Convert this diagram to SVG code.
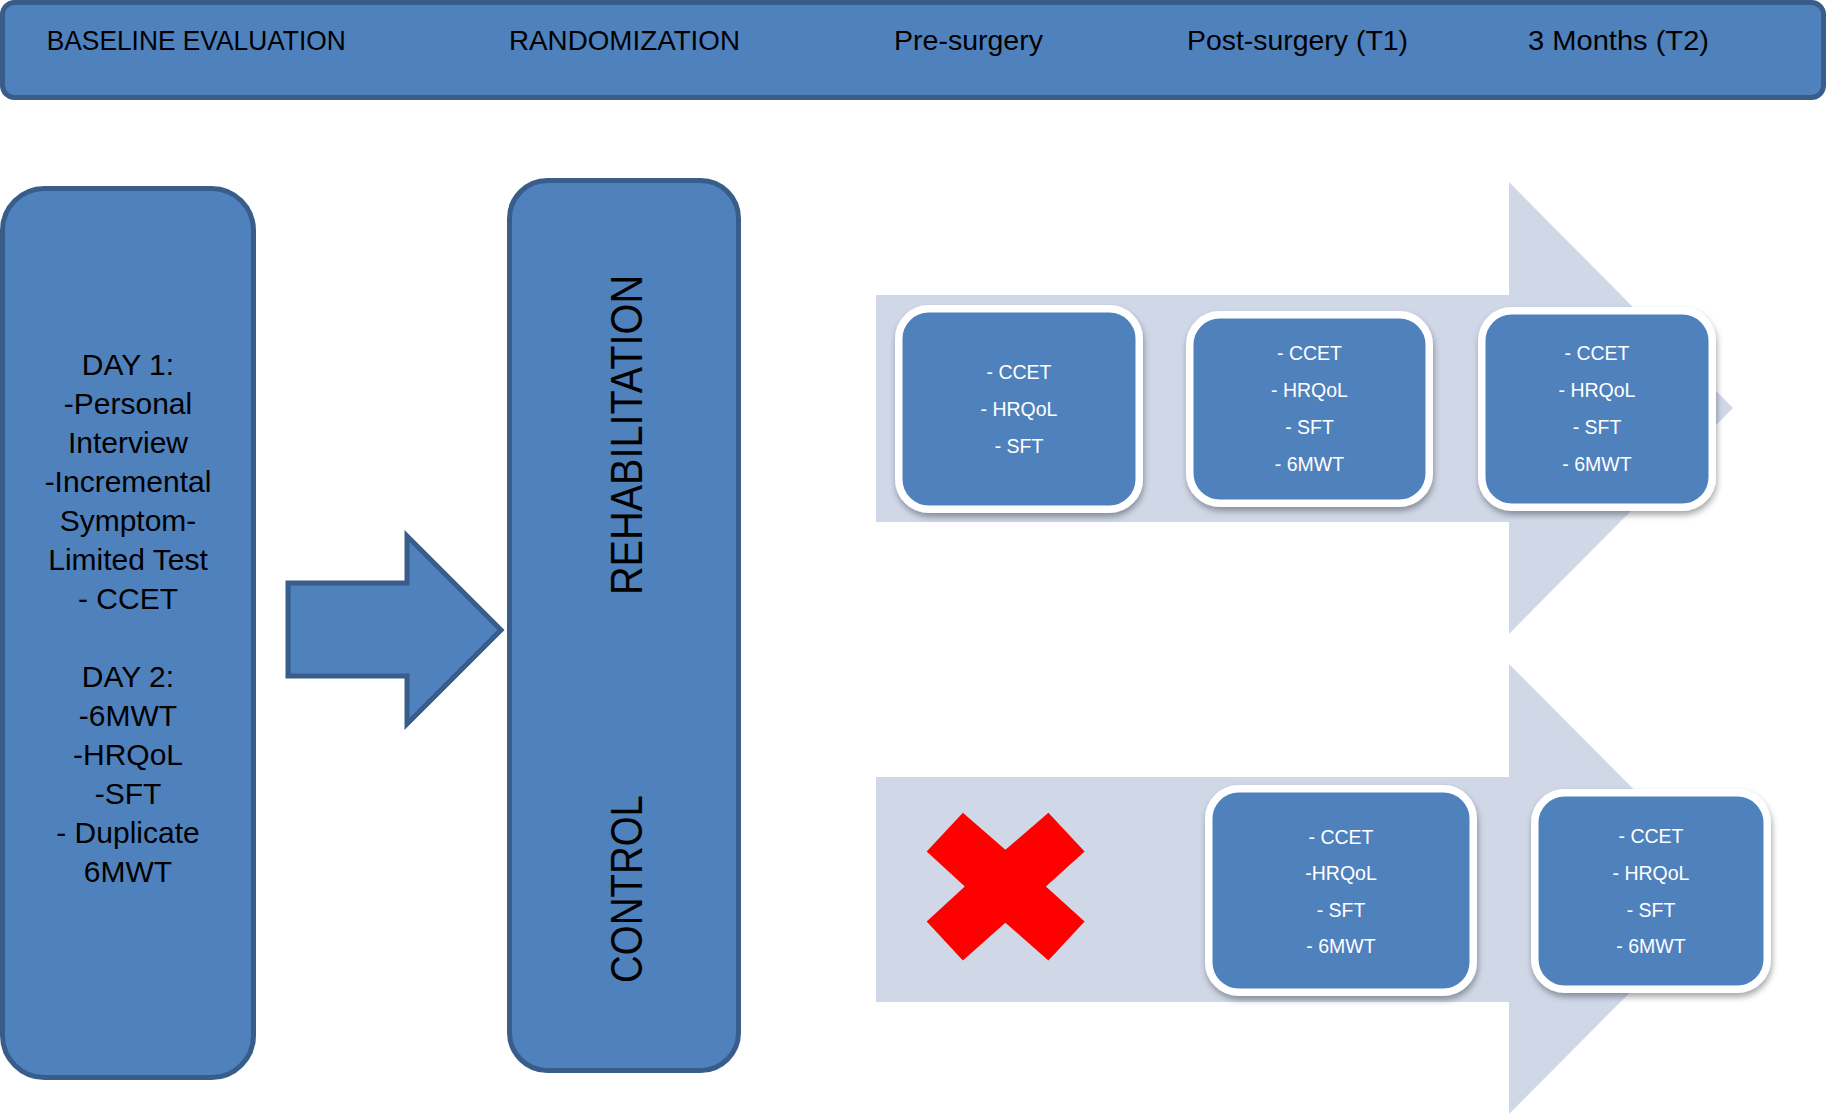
<svg xmlns="http://www.w3.org/2000/svg" width="1827" height="1119" viewBox="0 0 1827 1119">
  <defs>
    <filter id="soft-shadow" x="-10%" y="-10%" width="125%" height="130%">
      <feDropShadow dx="1" dy="4" stdDeviation="3" flood-color="#000" flood-opacity="0.35"/>
    </filter>
  </defs>
  <style>
    .panel { fill: #4F81BD; stroke: #385D8A; stroke-width: 5; }
    .card { fill: #4F81BD; stroke: #FFFFFF; stroke-width: 7.5; filter: url(#soft-shadow); }
    .track { fill: #D0D8E8; }
    .head { font-family: "Liberation Sans", Arial, sans-serif; font-size: 28px; fill: #000; }
    .body { font-family: "Liberation Sans", Arial, sans-serif; font-size: 30px; fill: #000; text-anchor: middle; }
    .arm { font-family: "Liberation Sans", Arial, sans-serif; font-size: 44px; fill: #000; text-anchor: middle; }
    .item { font-family: "Liberation Sans", Arial, sans-serif; font-size: 19.5px; fill: #FFFFFF; text-anchor: middle; }
  </style>

  <rect width="1827" height="1119" fill="#FFFFFF"/>

  <!-- timeline header -->
  <g id="header">
    <rect class="panel" x="2.5" y="2.5" width="1821" height="95" rx="12"/>
    <text class="head" x="46.7" y="50" textLength="299" lengthAdjust="spacingAndGlyphs">BASELINE EVALUATION</text>
    <text class="head" x="509" y="50" textLength="231" lengthAdjust="spacingAndGlyphs">RANDOMIZATION</text>
    <text class="head" x="894" y="50" textLength="149" lengthAdjust="spacingAndGlyphs">Pre-surgery</text>
    <text class="head" x="1187" y="50" textLength="221" lengthAdjust="spacingAndGlyphs">Post-surgery (T1)</text>
    <text class="head" x="1528" y="50" textLength="181" lengthAdjust="spacingAndGlyphs">3 Months (T2)</text>
  </g>

  <!-- baseline evaluation -->
  <g id="baseline">
    <rect class="panel" x="2.5" y="188.5" width="251" height="889" rx="42"/>
    <text class="body" x="128" y="374.5">DAY 1:</text>
    <text class="body" x="128" y="413.5">-Personal</text>
    <text class="body" x="128" y="452.6">Interview</text>
    <text class="body" x="128" y="491.6">-Incremental</text>
    <text class="body" x="128" y="530.7">Symptom-</text>
    <text class="body" x="128" y="569.7">Limited Test</text>
    <text class="body" x="128" y="608.8">- CCET</text>
    <text class="body" x="128" y="686.9">DAY 2:</text>
    <text class="body" x="128" y="725.9">-6MWT</text>
    <text class="body" x="128" y="765">-HRQoL</text>
    <text class="body" x="128" y="804">-SFT</text>
    <text class="body" x="128" y="843">- Duplicate</text>
    <text class="body" x="128" y="882">6MWT</text>
  </g>

  <!-- randomization into two arms -->
  <g id="randomization">
    <rect class="panel" x="509.5" y="180.5" width="229" height="890" rx="38"/>
    <text class="arm" transform="translate(642 435) rotate(-90)" x="0" y="0" textLength="320" lengthAdjust="spacingAndGlyphs">REHABILITATION</text>
    <text class="arm" transform="translate(642 889) rotate(-90)" x="0" y="0" textLength="188" lengthAdjust="spacingAndGlyphs">CONTROL</text>
  </g>

  <!-- follow-up tracks -->
  <g id="tracks">
    <polygon class="track" points="876,295 1509,295 1509,182 1733,408 1509,634 1509,522 876,522"/>
    <polygon class="track" points="876,777 1509,777 1509,664 1733,889 1509,1114 1509,1002 876,1002"/>
  </g>

  <g id="connectors">
    <polygon class="panel" stroke-width="4.5" stroke-linejoin="miter" points="288,583 407,583 407,536 501,630 407,724 407,676 288,676"/>
  </g>

  <!-- rehabilitation arm assessments -->
  <g id="rehab-pre">
    <rect class="card" x="898.75" y="308.75" width="240.5" height="200.5" rx="30"/>
    <text class="item" x="1019" y="379.3">- CCET</text>
    <text class="item" x="1019" y="416">- HRQoL</text>
    <text class="item" x="1019" y="452.7">- SFT</text>
  </g>
  <g id="rehab-t1">
    <rect class="card" x="1189.75" y="314.75" width="239.5" height="188.5" rx="30"/>
    <text class="item" x="1309.5" y="360">- CCET</text>
    <text class="item" x="1309.5" y="397">- HRQoL</text>
    <text class="item" x="1309.5" y="434">- SFT</text>
    <text class="item" x="1309.5" y="471">- 6MWT</text>
  </g>
  <g id="rehab-t2">
    <rect class="card" x="1481.75" y="310.75" width="230.5" height="196.5" rx="30"/>
    <text class="item" x="1597" y="360">- CCET</text>
    <text class="item" x="1597" y="397">- HRQoL</text>
    <text class="item" x="1597" y="434">- SFT</text>
    <text class="item" x="1597" y="471">- 6MWT</text>
  </g>

  <!-- control arm: no pre-surgery intervention -->
  <g id="control-pre">
    <polygon fill="#FF0000" points="962.9,812.8 1005.4,849.8 1048.4,812.8 1084.6,851.5 1045.9,886.5 1084.6,921.5 1048.4,960.4 1005.4,922.8 962.9,960.4 926.7,921.5 964.8,886.5 926.7,851.5"/>
  </g>
  <g id="control-t1">
    <rect class="card" x="1208.75" y="788.75" width="264.5" height="203.5" rx="30"/>
    <text class="item" x="1341" y="843.5">- CCET</text>
    <text class="item" x="1341" y="880">-HRQoL</text>
    <text class="item" x="1341" y="916.5">- SFT</text>
    <text class="item" x="1341" y="953">- 6MWT</text>
  </g>
  <g id="control-t2">
    <rect class="card" x="1534.75" y="792.75" width="232.5" height="196.5" rx="30"/>
    <text class="item" x="1651" y="843.3">- CCET</text>
    <text class="item" x="1651" y="880">- HRQoL</text>
    <text class="item" x="1651" y="916.7">- SFT</text>
    <text class="item" x="1651" y="953.3">- 6MWT</text>
  </g>
</svg>
